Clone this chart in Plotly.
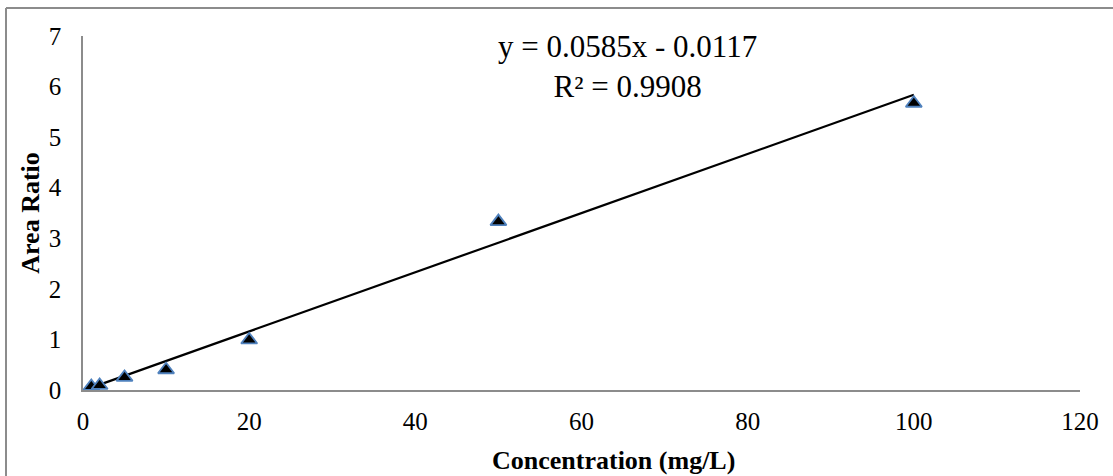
import plotly.graph_objects as go

conc = [1, 2, 5, 10, 20, 50, 100]
area_ratio = [0.07, 0.09, 0.25, 0.40, 0.99, 3.33, 5.67]
slope = 0.0585
intercept = -0.0117
eq_text = "y = 0.0585x - 0.0117<br>R² = 0.9908"
x_title = "<b>Concentration (mg/L)</b>"
y_title = "<b>Area Ratio</b>"
x_ticks = [0, 20, 40, 60, 80, 100, 120]
y_ticks = [0, 1, 2, 3, 4, 5, 6, 7]

font = "Liberation Serif, Times New Roman, serif"

L, R, T, B = 83, 33, 36, 86
W, H = 1113, 476
pw = W - L - R
ph = H - T - B


def px_x(x):
    return (x - L) / pw


def px_y(y):
    return (H - B - y) / ph


fig = go.Figure()
trend_x = [min(conc), max(conc)]
trend_y = [slope * v + intercept for v in trend_x]
fig.add_trace(go.Scatter(x=trend_x, y=trend_y, mode="lines",
                         line=dict(color="black", width=2.2), showlegend=False))
fig.add_trace(go.Scatter(x=conc, y=area_ratio, mode="markers",
                         marker=dict(symbol="triangle-up", size=14, color="black",
                                     line=dict(color="#4F81BD", width=1.8)),
                         showlegend=False))

fig.update_layout(
    width=W, height=H,
    margin=dict(l=L, r=R, t=T, b=B),
    paper_bgcolor="white", plot_bgcolor="white",
    font=dict(family=font, size=25, color="black"),
    xaxis=dict(range=[0, 120], tickvals=x_ticks, showgrid=False, zeroline=False,
               showline=True, linecolor="#8c8c8c", linewidth=1.5, ticks="",
               ticklabelstandoff=8),
    yaxis=dict(range=[0, 7], tickvals=y_ticks, showgrid=False, zeroline=False,
               showline=True, linecolor="#8c8c8c", linewidth=1.5, ticks="",
               ticklabelstandoff=15,
               title=dict(text=y_title, font=dict(size=26), standoff=2)),
    annotations=[
        dict(x=px_x(627), y=px_y(66), xref="paper", yref="paper", text=eq_text,
             xanchor="center", yanchor="middle", showarrow=False, font=dict(size=31)),
        dict(x=px_x(613), y=px_y(460), xref="paper", yref="paper", text=x_title,
             xanchor="center", yanchor="middle", showarrow=False, font=dict(size=26)),
    ],
)
# outer frame (left and top visible)
fig.add_shape(type="line", xref="paper", yref="paper",
              x0=px_x(6), x1=px_x(W), y0=px_y(8), y1=px_y(8),
              line=dict(color="#8c8c8c", width=2))
fig.add_shape(type="line", xref="paper", yref="paper",
              x0=px_x(6), x1=px_x(6), y0=px_y(8), y1=px_y(H),
              line=dict(color="#8c8c8c", width=2))

fig.write_html("out.html")
